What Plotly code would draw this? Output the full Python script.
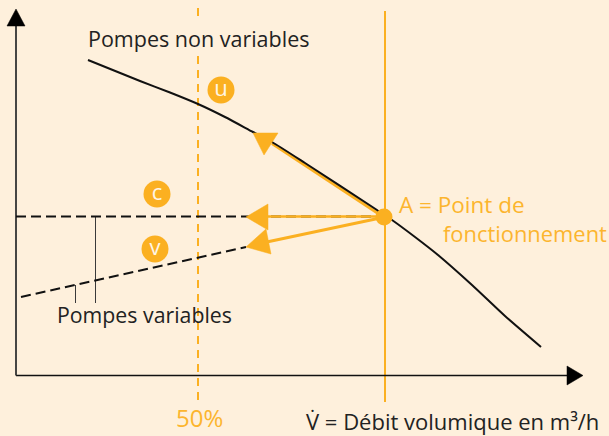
import plotly.graph_objects as go

BG = "#FEF0DC"
ORANGE = "#FBB021"
LABEL_ORANGE = "#FCB52E"
BLACK = "#111111"
DARK = "#222222"
FONT = "Open Sans"

# Curves (flow, head on the figure's own scale)
curve_x = [88, 140, 170, 198, 225, 253, 272, 305, 377, 392, 415, 438, 472, 505, 541]
curve_y = [60, 81, 92.5, 104, 117, 132, 142, 163, 210, 220, 237, 255, 285, 316, 347]
var_flat_x = [16, 385]
var_flat_y = [216.5, 216.5]
var_rise_x = [21, 246]
var_rise_y = [297, 247]
axis_x_x = [16, 570]
axis_x_y = [375.5, 375.5]
axis_y_x = [16, 16]
axis_y_y = [375.5, 24]
half_x = [198, 198, None, 198, 198]
half_y = [8, 22, None, 56, 400]
oper_x = [385, 385]
oper_y = [11, 402]
leader_x = [95.5, 95.5, None, 75.5, 75.5]
leader_y = [216, 303, None, 285, 303]
arrow1_x = [385, 272]
arrow1_y = [218, 143.5]
arrow2_x = [385, 262]
arrow2_y = [216.5, 216.5]
arrow3_x = [385, 262]
arrow3_y = [217, 243]
point_x = [384]
point_y = [217]
head1_x = [253, 278, 264, 253]
head1_y = [133, 133, 155, 133]
head2_x = [246, 268, 268, 246]
head2_y = [217, 204, 230, 217]
head3_x = [246, 266, 271, 246]
head3_y = [247, 229, 254, 247]
axis_head_y_x = [16, 7, 25, 16]
axis_head_y_y = [9, 26, 26, 9]
axis_head_x_x = [583, 567, 567, 583]
axis_head_x_y = [375.5, 366, 385, 375.5]
badge_x = [221, 157, 155]
badge_y = [90, 194, 249]
badge_text = ["u", "c", "v"]


def line(x, y, color, width, dash="solid"):
    return go.Scatter(x=x, y=y, mode="lines", hoverinfo="skip", showlegend=False,
                      line=dict(color=color, width=width, dash=dash))


def solid(x, y, color):
    return go.Scatter(x=x, y=y, mode="lines", fill="toself", fillcolor=color, hoverinfo="skip",
                      showlegend=False, line=dict(color=color, width=0.5))


fig = go.Figure()
fig.add_trace(line(half_x, half_y, ORANGE, 2, "8px,6px"))
fig.add_trace(line(oper_x, oper_y, ORANGE, 2))
fig.add_trace(line(axis_x_x, axis_x_y, BLACK, 1.6))
fig.add_trace(line(axis_y_x, axis_y_y, "#333333", 1.8))
fig.add_trace(line(leader_x, leader_y, "#3a3a3a", 1))
fig.add_trace(line(var_flat_x, var_flat_y, BLACK, 2, "10px,5px"))
fig.add_trace(line(var_rise_x, var_rise_y, BLACK, 2, "10px,5px"))
fig.add_trace(line(arrow1_x, arrow1_y, ORANGE, 3))
fig.add_trace(line(arrow2_x, arrow2_y, ORANGE, 2.4))
fig.add_trace(line(arrow3_x, arrow3_y, ORANGE, 3))
fig.add_trace(go.Scatter(x=curve_x, y=curve_y, mode="lines", hoverinfo="skip", showlegend=False,
                         line=dict(color=BLACK, width=2, shape="spline", smoothing=0.6)))
fig.add_trace(solid(head1_x, head1_y, ORANGE))
fig.add_trace(solid(head2_x, head2_y, ORANGE))
fig.add_trace(solid(head3_x, head3_y, ORANGE))
fig.add_trace(solid(axis_head_y_x, axis_head_y_y, "#000000"))
fig.add_trace(solid(axis_head_x_x, axis_head_x_y, "#000000"))
fig.add_trace(go.Scatter(x=point_x, y=point_y, mode="markers", hoverinfo="skip", showlegend=False,
                         marker=dict(symbol="circle", size=17, color=ORANGE)))
fig.add_trace(go.Scatter(x=badge_x, y=badge_y, mode="markers+text", hoverinfo="skip", showlegend=False,
                         marker=dict(symbol="circle", size=27, color=ORANGE),
                         text=badge_text, textposition="middle center",
                         textfont=dict(family=FONT, size=22, color="#FFF6E6")))


def label(x, y, text, color, size):
    fig.add_annotation(x=x, y=y, text=text, showarrow=False, xanchor="left", yanchor="middle",
                       align="left", borderpad=0,
                       font=dict(family=FONT, size=size, color=color))


label(87, 38, "Pompes non variables", DARK, 21.5)
label(56, 314, "Pompes variables", DARK, 21.3)
label(398, 204.5, "A = Point de", LABEL_ORANGE, 22.5)
label(442, 233.5, "fonctionnement", LABEL_ORANGE, 21.9)
label(175, 417, "50%", LABEL_ORANGE, 24)
label(305, 420.5, "V\u0307 = Débit volumique en m³/h", DARK, 22)

fig.update_layout(
    width=609, height=436, margin=dict(l=0, r=0, t=0, b=0),
    paper_bgcolor=BG, plot_bgcolor=BG, showlegend=False,
    xaxis=dict(range=[0, 609], visible=False, fixedrange=True),
    yaxis=dict(range=[436, 0], visible=False, fixedrange=True),
)
fig.write_html("out.html", config={"displayModeBar": False},
               post_script="document.body.style.margin='0';document.body.style.background='" + BG + "';")
